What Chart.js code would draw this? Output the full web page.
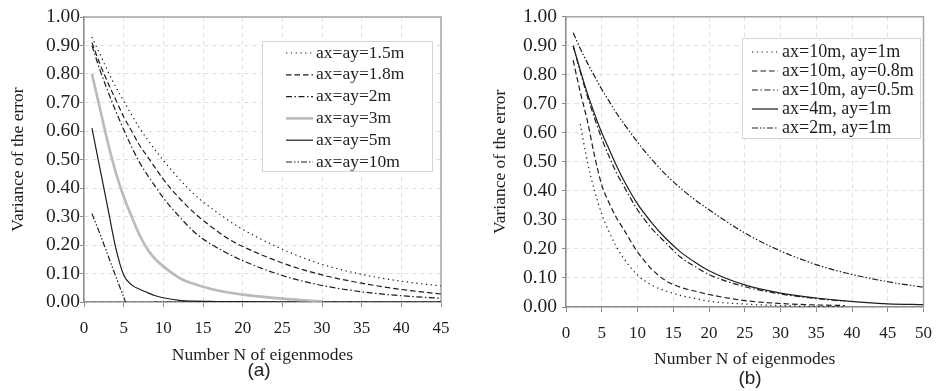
<!DOCTYPE html>
<html>
<head>
<meta charset="utf-8">
<script src="https://cdn.jsdelivr.net/npm/chart.js@4.4.0/dist/chart.umd.min.js"></script>
<style>
  html, body { margin: 0; padding: 0; background: #fff; }
  #wrap { position: relative; width: 943px; height: 391px; overflow: hidden; }
  canvas { position: absolute; top: 0; }
  #chartA { left: 0; }
  #chartB { left: 470px; }
  .cap { position: absolute; font-family: "Liberation Sans", Arial, sans-serif; font-size: 19px; color: #222; transform: translate(-50%, -50%); }
</style>
</head>
<body>
<div id="wrap">
  <canvas id="chartA" width="470" height="370"></canvas>
  <canvas id="chartB" width="473" height="375"></canvas>
  <div class="cap" style="left:259px; top:370px">(a)</div>
  <div class="cap" style="left:750px; top:378px">(b)</div>
</div>
<script>
const serif = '"Liberation Serif", "Times New Roman", serif';
const ink = '#1e1e1e';

// (a) equal correlation lengths
const nA = [1, 2, 3, 4, 5, 6, 7, 8, 9, 10, 12, 14, 16, 18, 20, 25, 30, 35, 40, 45];
const a15 = [0.93, 0.87, 0.81, 0.755, 0.705, 0.657, 0.61, 0.57, 0.532, 0.497, 0.432, 0.375, 0.33, 0.29, 0.255, 0.185, 0.132, 0.097, 0.073, 0.056];
const a18 = [0.91, 0.836, 0.77, 0.71, 0.65, 0.60, 0.55, 0.51, 0.47, 0.43, 0.365, 0.31, 0.265, 0.225, 0.195, 0.137, 0.095, 0.066, 0.044, 0.028];
const a2 = [0.90, 0.815, 0.74, 0.67, 0.605, 0.545, 0.49, 0.445, 0.405, 0.365, 0.30, 0.243, 0.203, 0.172, 0.145, 0.093, 0.058, 0.036, 0.022, 0.013];
const a3 = [0.80, 0.68, 0.56, 0.455, 0.37, 0.30, 0.235, 0.185, 0.15, 0.125, 0.085, 0.062, 0.046, 0.034, 0.026, 0.012, 0.002, null, null, null];
const a5 = [0.61, 0.47, 0.33, 0.19, 0.095, 0.06, 0.045, 0.033, 0.022, 0.015, 0.006, 0.003, 0.002, 0.001, 0.001, 0, 0, 0, 0, 0];
const a10 = [0.31, 0.24, 0.165, 0.09, 0.018, -0.05, -0.04, -0.012, 0, 0, 0, 0, 0, 0, 0, 0, 0, 0, 0, 0];

// (b) anisotropic correlation lengths
const nB = [1, 2, 3, 4, 5, 6, 7, 8, 10, 12, 14, 16, 18, 20, 25, 30, 35, 39, 45, 50];
const b10x1 = [null, 0.63, 0.50, 0.40, 0.32, 0.26, 0.21, 0.17, 0.11, 0.075, 0.055, 0.04, 0.03, 0.02, 0.01, 0.005, 0.002, 0.001, null, null];
const b10x08 = [0.85, 0.74, 0.64, 0.52, 0.42, 0.36, 0.31, 0.27, 0.19, 0.13, 0.09, 0.068, 0.055, 0.043, 0.022, 0.012, 0.007, 0.005, null, null];
const b10x05 = [0.90, 0.81, 0.725, 0.65, 0.58, 0.52, 0.465, 0.42, 0.335, 0.27, 0.22, 0.172, 0.14, 0.112, 0.07, 0.045, 0.029, 0.02, null, null];
const b4x1 = [0.90, 0.815, 0.735, 0.665, 0.60, 0.545, 0.49, 0.44, 0.355, 0.29, 0.235, 0.19, 0.155, 0.125, 0.076, 0.048, 0.031, 0.021, 0.011, 0.008];
const b2x1 = [0.945, 0.89, 0.84, 0.795, 0.75, 0.71, 0.67, 0.635, 0.568, 0.508, 0.455, 0.41, 0.37, 0.335, 0.255, 0.193, 0.146, 0.118, 0.087, 0.068];

const DOT = [1.3, 3.5];
const DASH = [5.5, 3];
const DASHDOT = [6, 2.5, 1.5, 2.5];
const DASHDOTDOT = [6, 2, 1.5, 2, 1.5, 2];

function line(label, xs, ys, dash, color, width) {
  return {
    label,
    data: xs.map((x, i) => ({ x, y: ys[i] })),
    borderColor: color || ink,
    borderWidth: width || 1.2,
    borderDash: dash,
    pointRadius: 0,
    fill: false,
    cubicInterpolationMode: 'monotone'
  };
}

// boxed legend inside the plot area
const boxLegend = {
  id: 'boxLegend',
  afterDatasetsDraw(chart, args, opts) {
    const ctx = chart.ctx;
    const [bx, by, bw, bh] = opts.box;
    ctx.save();
    ctx.fillStyle = '#fff';
    ctx.fillRect(bx, by, bw, bh);
    ctx.strokeStyle = '#d4d4d4';
    ctx.lineWidth = 1;
    ctx.strokeRect(bx + 0.5, by + 0.5, bw, bh);
    ctx.font = opts.fontSize + 'px ' + serif;
    ctx.textBaseline = 'middle';
    chart.data.datasets.forEach((ds, i) => {
      const y = opts.firstRow + i * opts.rowGap;
      ctx.beginPath();
      ctx.setLineDash(ds.borderDash || []);
      ctx.strokeStyle = ds.borderColor;
      ctx.lineWidth = ds.borderWidth;
      ctx.moveTo(opts.sampleX, y);
      ctx.lineTo(opts.sampleX + opts.sampleW, y);
      ctx.stroke();
      ctx.setLineDash([]);
      ctx.fillStyle = ink;
      ctx.fillText(ds.label, opts.textX, y);
    });
    ctx.restore();
  }
};

// top and right edges of the plot frame
const frame = {
  id: 'frame',
  beforeDatasetsDraw(chart) {
    const { ctx, chartArea: a } = chart;
    ctx.save();
    ctx.strokeStyle = '#a6a6a6';
    ctx.lineWidth = 1.5;
    ctx.beginPath();
    ctx.moveTo(a.left, a.top);
    ctx.lineTo(a.right, a.top);
    ctx.lineTo(a.right, a.bottom);
    ctx.stroke();
    ctx.restore();
  }
};

function panel(id, datasets, xMax, g) {
  const xFont = { family: serif, size: 17 };
  const yFont = { family: serif, size: 19.5 };
  const titleFont = { family: serif, size: 17.5 };
  return new Chart(document.getElementById(id), {
    type: 'line',
    data: { datasets },
    plugins: [frame, boxLegend],
    options: {
      responsive: false,
      animation: false,
      layout: { padding: { top: g.top, right: g.right, left: 0, bottom: 0 } },
      plugins: {
        legend: { display: false },
        tooltip: { enabled: false },
        boxLegend: g.legend
      },
      scales: {
        x: {
          type: 'linear',
          min: 0,
          max: xMax,
          ticks: { stepSize: 5, color: ink, font: xFont, padding: 11, maxRotation: 0, autoSkip: false },
          grid: { color: '#dedede', tickColor: '#8c8c8c', tickLength: 5 },
          border: { color: '#8c8c8c', width: 1.5, dash: [4, 4] },
          title: { display: true, text: 'Number N of eigenmodes', color: ink, font: titleFont, padding: { top: 0, bottom: g.xTitlePad } },
          afterFit: s => { s.height = g.xHeight; }
        },
        y: {
          min: 0,
          max: 1,
          ticks: { stepSize: 0.1, color: ink, font: yFont, padding: g.yTickPad, callback: v => v.toFixed(2) },
          grid: { color: '#dedede', tickColor: '#8c8c8c', tickLength: 4 },
          border: { color: '#8c8c8c', width: 1.5, dash: [4, 4] },
          title: { display: true, text: 'Variance of the error', color: ink, font: titleFont, padding: { top: g.yTitlePad, bottom: 0 } },
          afterFit: s => { s.width = g.yWidth; }
        }
      }
    }
  });
}

panel('chartA', [
  line('ax=ay=1.5m', nA, a15, DOT),
  line('ax=ay=1.8m', nA, a18, DASH),
  line('ax=ay=2m', nA, a2, DASHDOT),
  line('ax=ay=3m', nA, a3, [], 'rgba(178,178,178,0.9)', 2.6),
  line('ax=ay=5m', nA, a5, []),
  line('ax=ay=10m', nA, a10, DASHDOTDOT)
], 45, {
  top: 17, right: 29, xHeight: 68, yWidth: 84, xTitlePad: 4.5, yTitlePad: 7.5, yTickPad: 0,
  legend: { box: [262, 41, 170, 130], firstRow: 53, rowGap: 21.8, sampleX: 286, sampleW: 27, textX: 316, fontSize: 17.5 }
});

panel('chartB', [
  line('ax=10m, ay=1m', nB, b10x1, DOT),
  line('ax=10m, ay=0.8m', nB, b10x08, DASH),
  line('ax=10m, ay=0.5m', nB, b10x05, DASHDOT),
  line('ax=4m, ay=1m', nB, b4x1, []),
  line('ax=2m, ay=1m', nB, b2x1, DASHDOTDOT)
], 50, {
  top: 15, right: 11, xHeight: 68, yWidth: 96, xTitlePad: 5.5, yTitlePad: 19.5, yTickPad: 5,
  legend: { box: [272, 38, 178, 100], firstRow: 52, rowGap: 19, sampleX: 282, sampleW: 26, textX: 312, fontSize: 18 }
});
</script>
</body>
</html>
